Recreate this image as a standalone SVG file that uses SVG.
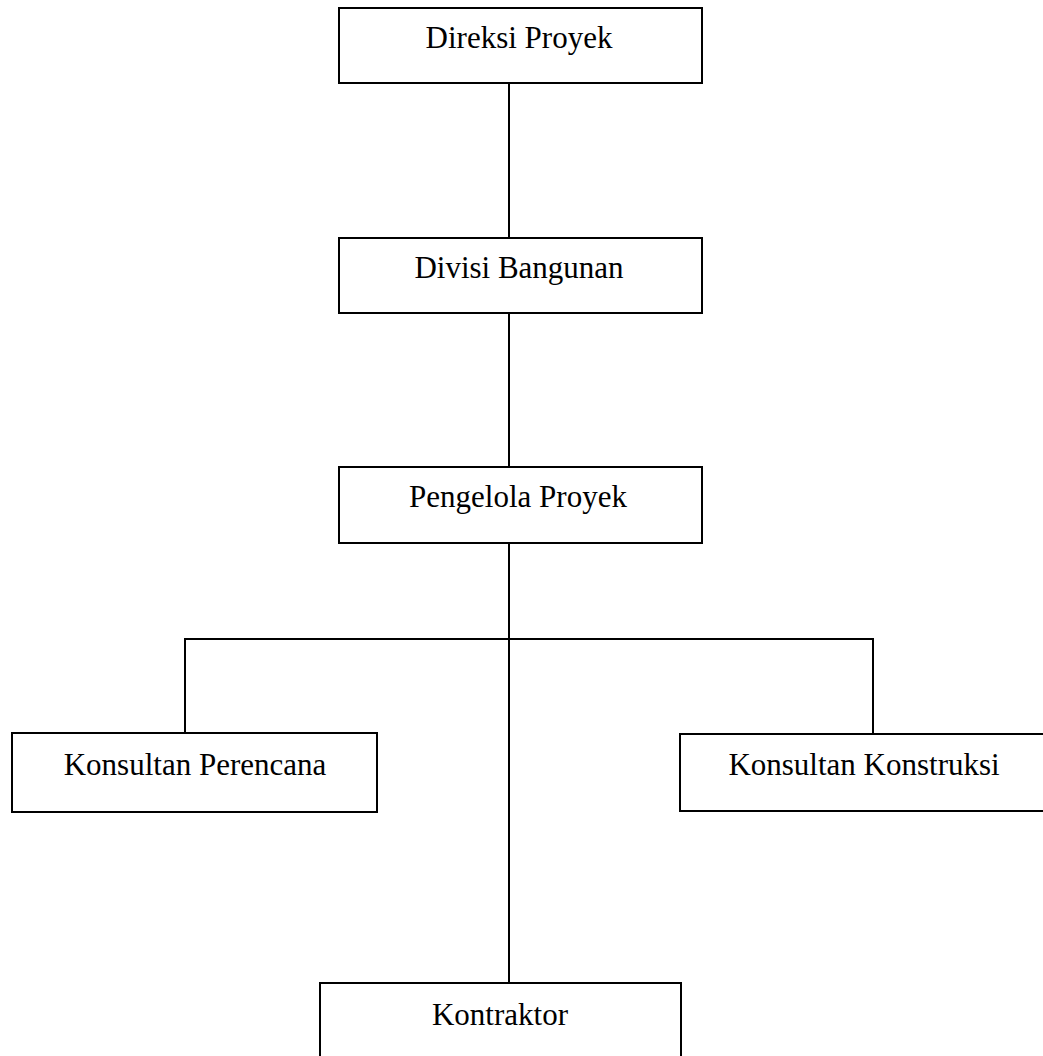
<svg xmlns="http://www.w3.org/2000/svg" width="1043" height="1056" viewBox="0 0 1043 1056">
<style>
.box{fill:#fff;stroke:#000;stroke-width:2}
.lbl{font-family:"Liberation Serif","Times New Roman",serif;font-size:31px;fill:#000;text-anchor:middle}
.con{fill:none;stroke:#000;stroke-width:2}
</style>
<rect width="1043" height="1056" fill="#fff"/>
<g id="connectors">
<line class="con" x1="509" y1="83" x2="509" y2="238"/>
<line class="con" x1="509" y1="313" x2="509" y2="467"/>
<line class="con" x1="509" y1="543" x2="509" y2="983"/>
<polyline class="con" points="185,733 185,639 873,639 873,734"/>
</g>
<g id="n1"><rect class="box" x="339" y="8" width="363" height="75"/><text class="lbl" x="519" y="48">Direksi Proyek</text></g>
<g id="n2"><rect class="box" x="339" y="238" width="363" height="75"/><text class="lbl" x="519" y="278">Divisi Bangunan</text></g>
<g id="n3"><rect class="box" x="339" y="467" width="363" height="76"/><text class="lbl" x="518" y="507">Pengelola Proyek</text></g>
<g id="n4"><rect class="box" x="12" y="733" width="365" height="79"/><text class="lbl" x="195" y="775">Konsultan Perencana</text></g>
<g id="n5"><rect class="box" x="680" y="734" width="370" height="77"/><text class="lbl" x="864" y="775">Konsultan Konstruksi</text></g>
<g id="n6"><rect class="box" x="320" y="983" width="361" height="90"/><text class="lbl" x="500" y="1025">Kontraktor</text></g>
</svg>
